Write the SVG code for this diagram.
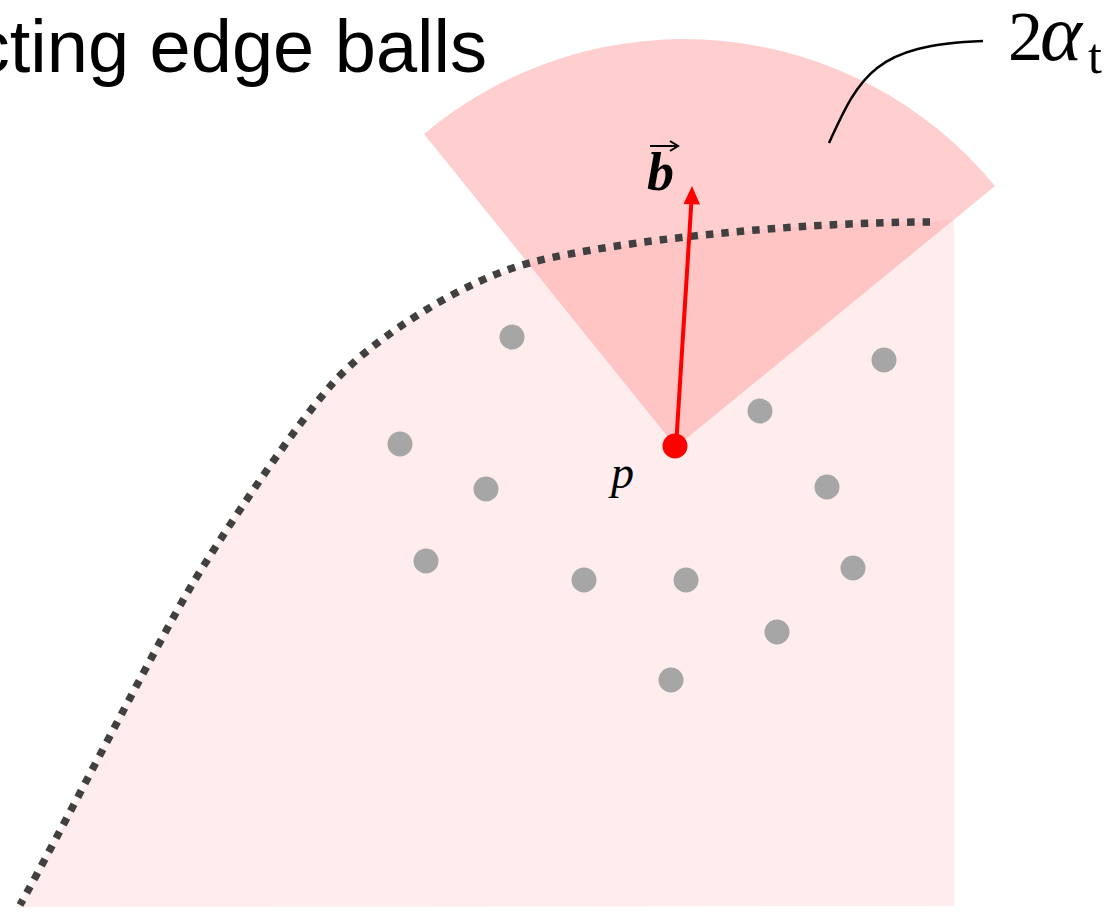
<svg xmlns="http://www.w3.org/2000/svg" width="1119" height="913" viewBox="0 0 1119 913">
<style>
.pt{fill:#A6A6A6}
.lbl{font-family:"Liberation Serif","DejaVu Serif",serif;fill:#000}
</style>
<rect width="1119" height="913" fill="#FFFFFF"/>
<g id="region">
<path d="M954,219 L930,222 C800,222 620,240 533,262 C465,279 373,338 333,383 C293,428 224,532 193,583 C157,643 54.5,844 20,905 L15,907 L954,906 Z" fill="#FFEDED"/>
</g>
<g id="sector">
<path d="M676,447 L424,134 A403,403 0 0 1 995,186 Z" fill="#FF9999" fill-opacity="0.48"/>
</g>
<g id="boundary">
<path d="M930,222 C800,222 620,240 533,262 C465,279 373,338 333,383 C293,428 224,532 193,583 C157,643 54.5,844 20,905" fill="none" stroke="#404040" stroke-width="7.5" stroke-dasharray="7.5 8"/>
</g>
<g id="points">
<circle class="pt" cx="512" cy="337" r="12.5"/>
<circle class="pt" cx="884" cy="360" r="12.5"/>
<circle class="pt" cx="760" cy="411" r="12.5"/>
<circle class="pt" cx="400" cy="444" r="12.5"/>
<circle class="pt" cx="486" cy="489" r="12.5"/>
<circle class="pt" cx="827" cy="487" r="12.5"/>
<circle class="pt" cx="426" cy="561" r="12.5"/>
<circle class="pt" cx="584" cy="580" r="12.5"/>
<circle class="pt" cx="686" cy="580" r="12.5"/>
<circle class="pt" cx="853" cy="568" r="12.5"/>
<circle class="pt" cx="777" cy="632" r="12.5"/>
<circle class="pt" cx="671" cy="680" r="12.5"/>
</g>
<g id="connectors">
<line x1="676" y1="447" x2="691.5" y2="200" stroke="#FF0000" stroke-width="4"/>
<polygon points="692,186 683.5,204 700,204.5" fill="#FF0000"/>
<path d="M829,143 C860,75 875,45 983,41" fill="none" stroke="#000" stroke-width="2.5"/>
</g>
<g id="p">
<circle cx="675" cy="446" r="12.5" fill="#FF0000"/>
<text class="lbl" x="611" y="488" font-size="46" font-style="italic">p</text>
</g>
<g id="b-label">
<text class="lbl" x="647" y="190" font-size="54" font-style="italic" font-weight="bold">b</text>
<path d="M650,146 L677,146 M670,141 L678,146 L670,151" fill="none" stroke="#000" stroke-width="2"/>
</g>
<g id="alpha-label">
<text class="lbl" x="1008" y="60" font-size="70">2</text>
<text class="lbl" x="1040" y="60" font-size="80" font-style="italic">α</text>
<text class="lbl" x="1088" y="73" font-size="50">t</text>
</g>
<g id="title">
<text x="487" y="72" font-family="'Liberation Sans',Arial,sans-serif" font-size="74" text-anchor="end" fill="#000">cting edge balls</text>
</g>
</svg>
